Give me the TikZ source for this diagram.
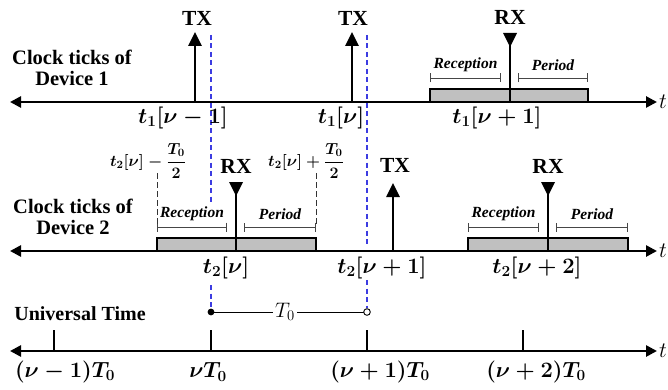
\RequirePackage{fix-cm}
\documentclass[tikz,border=0pt]{standalone}
\usepackage{amsmath}
\usepackage{fontspec}
\setmainfont{Liberation Serif}
\usetikzlibrary{arrows.meta,calc}
\definecolor{rectgray}{RGB}{192,192,192}
\definecolor{dashblue}{RGB}{60,60,225}
\definecolor{brkgray}{RGB}{70,70,70}
\begin{document}
\begin{tikzpicture}[x=1pt,y=-1pt,
  lbl/.style={font=\fontsize{20.5}{21.5}\selectfont\bfseries, align=center, inner sep=0pt},
  txl/.style={font=\fontsize{21.5}{22}\selectfont\bfseries, inner sep=0pt},
  mlbl/.style={font=\fontsize{22}{24}\selectfont\boldmath, inner sep=0pt},
  flbl/.style={font=\fontsize{16}{18}\selectfont\boldmath, inner sep=0pt},
  ital/.style={font=\fontsize{15.5}{17}\selectfont\bfseries\itshape, inner sep=0pt},
  tlbl/.style={font=\fontsize{22}{24}\selectfont, inner sep=0pt, anchor=west},
  axisline/.style={line width=2.6pt, {Triangle[length=11pt,width=11pt]}-{Triangle[length=11pt,width=11pt]}},
  stem/.style={line width=2.6pt, -{Triangle[length=14pt,width=13pt]}},
  rxstem/.style={line width=2.6pt},
  rxtri/.style={fill=black},
  window/.style={draw=black, line width=2pt, fill=rectgray},
  brk/.style={draw=brkgray, line width=0.9pt, {Bar[width=9pt]}-{Bar[width=9pt]}},
  bluedash/.style={draw=dashblue, line width=2.2pt, dash pattern=on 5pt off 3.5pt},
  blackdash/.style={draw=black!80, line width=0.8pt, dash pattern=on 6pt off 3pt},
  tick/.style={line width=2pt},
  thinline/.style={line width=0.9pt}
]
\useasboundingbox (0,0) rectangle (668,390);

% ---------------- reception windows ----------------
\foreach \n/\l/\c/\r/\y in {wa/430/510/588/102, wb/157/236/316/251, wc/468/548/628/251}{
  \coordinate (\n-ll) at (\l,\y);
  \coordinate (\n-ur) at (\r,\y-13);
  \draw[window] (\n-ll) rectangle (\n-ur);
  \coordinate (\n-b1) at (\l,\y-24);
  \coordinate (\n-b2) at (\c-9,\y-24);
  \coordinate (\n-b3) at (\c+8,\y-24);
  \coordinate (\n-b4) at (\r,\y-24);
  \draw[brk] (\n-b1) -- (\n-b2);
  \draw[brk] (\n-b3) -- (\n-b4);
  \node[ital] (\n-rec) at ({(\l+\c-9)/2},\y-37) {Reception};
  \node[ital] (\n-per) at ({(\c+8+\r)/2},\y-37) {Period};
}

% ---------------- blue dashed lines ----------------
\coordinate (bl1a) at (211,35);  \coordinate (bl1b) at (211,202);
\coordinate (bl1c) at (211,285); \coordinate (bl1d) at (211,312);
\coordinate (bl2a) at (367,35);  \coordinate (bl2b) at (367,245);
\coordinate (bl2c) at (367,280); \coordinate (bl2d) at (367,308);
\draw[bluedash] (bl1a) -- (bl1b);
\draw[bluedash] (bl1c) -- (bl1d);
\draw[bluedash] (bl2a) -- (bl2b);
\draw[bluedash] (bl2c) -- (bl2d);

% ---------------- black dashed guides ----------------
\coordinate (gd1a) at (157,173); \coordinate (gd1b) at (157,224);
\coordinate (gd2a) at (316,173); \coordinate (gd2b) at (316,224);
\draw[blackdash] (gd1a) -- (gd1b);
\draw[blackdash] (gd2a) -- (gd2b);

% ---------------- axes ----------------
\coordinate (ax1L) at (10,102);  \coordinate (ax1R) at (657,102);
\coordinate (ax2L) at (10,251);  \coordinate (ax2R) at (657,251);
\coordinate (ax3L) at (10,351);  \coordinate (ax3R) at (657,351);
\draw[axisline] (ax1L) -- (ax1R);
\draw[axisline] (ax2L) -- (ax2R);
\draw[axisline] (ax3L) -- (ax3R);
\node[tlbl] (t1) at (659,102) {$t$};
\node[tlbl] (t2) at (659,251) {$t$};
\node[tlbl] (t3) at (659,351) {$t$};

% ---------------- RX markers ----------------
\foreach \n/\c/\y in {wa/510/102, wb/236/251, wc/548/251}{
  \coordinate (\n-rxb) at (\c,\y);
  \coordinate (\n-rxt) at (\c,\y-60);
  \draw[rxstem] (\n-rxb) -- (\n-rxt);
  \fill[rxtri] (\c-7,\y-69) -- (\c+7,\y-69) -- (\c,\y-55) -- cycle;
  \node[txl] (\n-rx) at (\c,\y-85) {RX};
}

% ---------------- TX arrows ----------------
\coordinate (tx1b) at (195,102); \coordinate (tx1t) at (195,32);
\coordinate (tx2b) at (352,102); \coordinate (tx2t) at (352,32);
\coordinate (tx3b) at (393,251); \coordinate (tx3t) at (393,183);
\draw[stem] (tx1b) -- (tx1t);
\draw[stem] (tx2b) -- (tx2t);
\draw[stem] (tx3b) -- (tx3t);
\node[txl] (tx1) at (197,18) {TX};
\node[txl] (tx2) at (353,18) {TX};
\node[txl] (tx3) at (395,165) {TX};

% ---------------- side titles ----------------
\node[lbl] (dev1) at (72,68) {Clock ticks of\\Device 1};
\node[lbl] (dev2) at (73,217) {Clock ticks of\\Device 2};
\node[lbl, font=\fontsize{20}{21}\selectfont\bfseries] (ut) at (80,314) {Universal Time};

% ---------------- tick labels ----------------
\node[mlbl] (l11) at (183,118) {$t_1[\nu-1]$};
\node[mlbl] (l12) at (341,118) {$t_1[\nu]$};
\node[mlbl] (l13) at (497,118) {$t_1[\nu+1]$};
\node[mlbl] (l21) at (226,268) {$t_2[\nu]$};
\node[mlbl] (l22) at (382,268) {$t_2[\nu+1]$};
\node[mlbl] (l23) at (537,268) {$t_2[\nu+2]$};
\node[flbl] (fm) at (148,161) {$t_2[\nu]-\dfrac{T_0}{2}$};
\node[flbl] (fp) at (306,161) {$t_2[\nu]+\dfrac{T_0}{2}$};

% ---------------- universal time ----------------
\foreach \n/\x in {u1/54, u2/211, u3/367, u4/523}{
  \coordinate (\n-a) at (\x,330);
  \coordinate (\n-b) at (\x,351);
  \draw[tick] (\n-a) -- (\n-b);
}
\node[mlbl] (ul1) at (65,372) {$(\nu-1)T_0$};
\node[mlbl] (ul2) at (208,372) {$\nu T_0$};
\node[mlbl] (ul3) at (380,372) {$(\nu+1)T_0$};
\node[mlbl] (ul4) at (536,372) {$(\nu+2)T_0$};

\coordinate (dotA) at (211,312);
\coordinate (dotB) at (367,312);
\draw[thinline] (dotA) -- (dotB);
\node[font=\fontsize{21}{22}\selectfont, fill=white, inner xsep=2pt, inner ysep=0pt] (T0) at (285,312) {$T_0$};
\fill[black] (dotA) circle (3.4pt);
\draw[thinline, fill=white] (dotB) circle (3.3pt);
\end{tikzpicture}
\end{document}
